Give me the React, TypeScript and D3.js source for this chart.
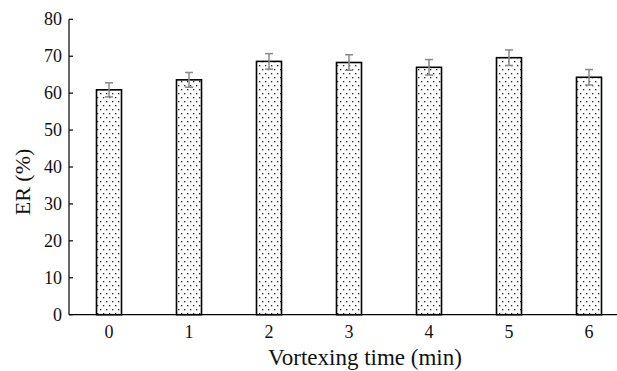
import React, { useEffect, useRef } from 'react';
import * as d3 from 'd3';

const categories = ['0', '1', '2', '3', '4', '5', '6'];
const erValues = [60.9, 63.6, 68.6, 68.3, 67.0, 69.6, 64.3];
const erErrors = [1.9, 2.0, 2.1, 2.1, 2.1, 2.1, 2.1];
const yTicks = [0, 10, 20, 30, 40, 50, 60, 70, 80];

const width = 617;
const height = 371;

const App: React.FC = () => {
	const svgRef = useRef<SVGSVGElement>(null);

	useEffect(() => {
		if (!svgRef.current) return;
		const svg = d3.select(svgRef.current);
		svg.selectAll('*').remove();

		const left = 69;
		const y0 = 314.7;
		const yTop = 19.3;

		const x = d3.scaleBand<string>()
			.domain(categories)
			.range([left, left + 560])
			.paddingInner(0.6875)
			.paddingOuter(0.34375);

		const y = d3.scaleLinear().domain([0, 80]).range([y0, yTop]);

		// dotted fill
		const defs = svg.append('defs');
		const pat = defs.append('pattern')
			.attr('id', 'dots')
			.attr('patternUnits', 'userSpaceOnUse')
			.attr('width', 6)
			.attr('height', 8);
		pat.append('rect').attr('width', 6).attr('height', 8).attr('fill', '#fff');
		pat.append('rect').attr('x', 1).attr('y', 1).attr('width', 1.3).attr('height', 1.3).attr('fill', '#222');
		pat.append('rect').attr('x', 4).attr('y', 5).attr('width', 1.3).attr('height', 1.3).attr('fill', '#222');

		const font = '"Liberation Serif", "Times New Roman", serif';

		// bars
		svg.append('g')
			.selectAll('rect')
			.data(categories)
			.join('rect')
			.attr('x', d => x(d)!)
			.attr('y', (d, i) => y(erValues[i]))
			.attr('width', x.bandwidth())
			.attr('height', (d, i) => y0 - y(erValues[i]))
			.attr('fill', 'url(#dots)')
			.attr('stroke', '#000')
			.attr('stroke-width', 1.6);

		// error bars
		const eb = svg.append('g').attr('stroke', '#8a8a8a').attr('stroke-width', 1.5);
		categories.forEach((c, i) => {
			const cx = x(c)! + x.bandwidth() / 2;
			const hi = y(erValues[i] + erErrors[i]);
			const lo = y(erValues[i] - erErrors[i]);
			eb.append('line').attr('x1', cx).attr('x2', cx).attr('y1', hi).attr('y2', lo);
			eb.append('line').attr('x1', cx - 4).attr('x2', cx + 4).attr('y1', hi).attr('y2', hi);
			eb.append('line').attr('x1', cx - 4).attr('x2', cx + 4).attr('y1', lo).attr('y2', lo);
		});

		// axes
		svg.append('line')
			.attr('x1', left).attr('x2', left)
			.attr('y1', yTop).attr('y2', y0)
			.attr('stroke', '#000').attr('stroke-width', 1.2);
		svg.append('line')
			.attr('x1', left).attr('x2', width)
			.attr('y1', y0).attr('y2', y0)
			.attr('stroke', '#000').attr('stroke-width', 1.2);

		yTicks.forEach(t => {
			svg.append('line')
				.attr('x1', left).attr('x2', left + 4)
				.attr('y1', y(t)).attr('y2', y(t))
				.attr('stroke', '#000').attr('stroke-width', 1.2);
			svg.append('text')
				.attr('x', 62)
				.attr('y', y(t) + 6)
				.attr('text-anchor', 'end')
				.attr('font-family', font)
				.attr('font-size', 18)
				.attr('fill', '#111')
				.text(String(t));
		});

		categories.forEach(c => {
			svg.append('text')
				.attr('x', x(c)! + x.bandwidth() / 2)
				.attr('y', 338)
				.attr('text-anchor', 'middle')
				.attr('font-family', font)
				.attr('font-size', 18)
				.attr('fill', '#111')
				.text(c);
		});

		svg.append('text')
			.attr('x', 365)
			.attr('y', 365)
			.attr('text-anchor', 'middle')
			.attr('font-family', font)
			.attr('font-size', 23)
			.attr('fill', '#111')
			.text('Vortexing time (min)');

		svg.append('text')
			.attr('transform', 'translate(30,182) rotate(-90)')
			.attr('text-anchor', 'middle')
			.attr('font-family', font)
			.attr('font-size', 22)
			.attr('fill', '#111')
			.text('ER (%)');
	}, []);

	return (
		<svg
			ref={svgRef}
			width={width}
			height={height}
			style={{ position: 'absolute', left: 0, top: 0, background: '#fff' }}
		></svg>
	);
};

export default App;
